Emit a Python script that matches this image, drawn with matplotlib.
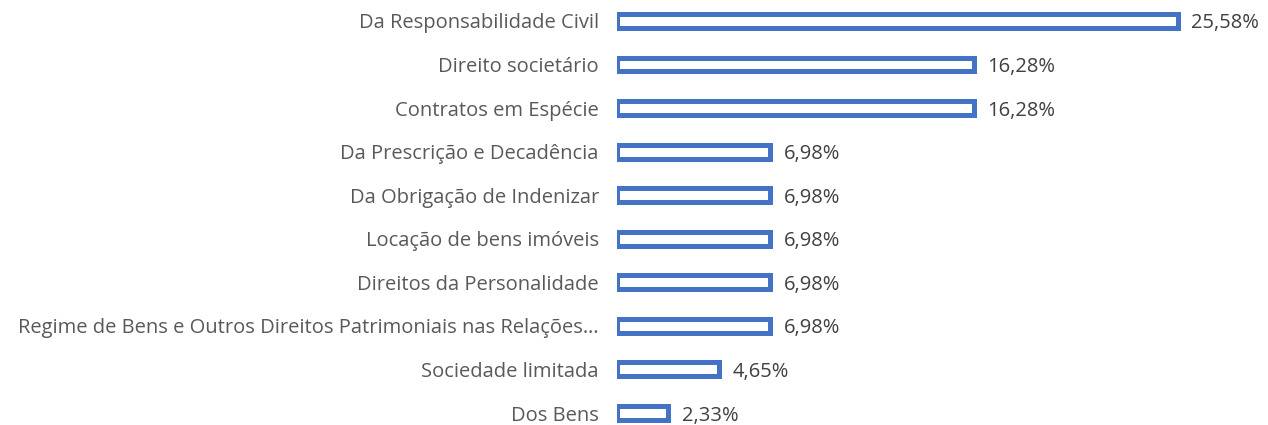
import matplotlib.pyplot as plt

# === Dati ===
categories = [
    "Da Responsabilidade Civil",
    "Direito societário",
    "Contratos em Espécie",
    "Da Prescrição e Decadência",
    "Da Obrigação de Indenizar",
    "Locação de bens imóveis",
    "Direitos da Personalidade",
    "Regime de Bens e Outros Direitos Patrimoniais nas Relações…",
    "Sociedade limitada",
    "Dos Bens",
]
values = [25.58, 16.28, 16.28, 6.98, 6.98, 6.98, 6.98, 6.98, 4.65, 2.33]
value_labels = ["25,58%", "16,28%", "16,28%", "6,98%", "6,98%", "6,98%",
                "6,98%", "6,98%", "4,65%", "2,33%"]

blue = "#4472C4"
plt.rcParams['font.family'] = ['Open Sans', 'DejaVu Sans']

fig = plt.figure(figsize=(12.68, 4.25), dpi=100)
ax = fig.add_axes([0.4865, 0.0, 0.5135, 1.0])

ypos = list(range(len(categories)))
ax.barh(ypos, values, height=0.32, facecolor="white", edgecolor=blue,
        linewidth=3.6)

# etichette valori a destra delle barre
for y, v, lab in zip(ypos, values, value_labels):
    ax.text(v + 0.62, y, lab, va="center_baseline", ha="left", fontsize=14.5,
            color="#404040")

ax.set_yticks(ypos)
ax.set_yticklabels(categories, fontsize=14.5, color="#595959",
                   va="center_baseline")
ax.tick_params(axis="y", length=0, pad=13)
ax.set_xticks([])
ax.set_xlim(0, 29.7)
ax.set_ylim(9.275, -0.48)
for s in ax.spines.values():
    s.set_visible(False)

fig.savefig("out.png", dpi=100)
